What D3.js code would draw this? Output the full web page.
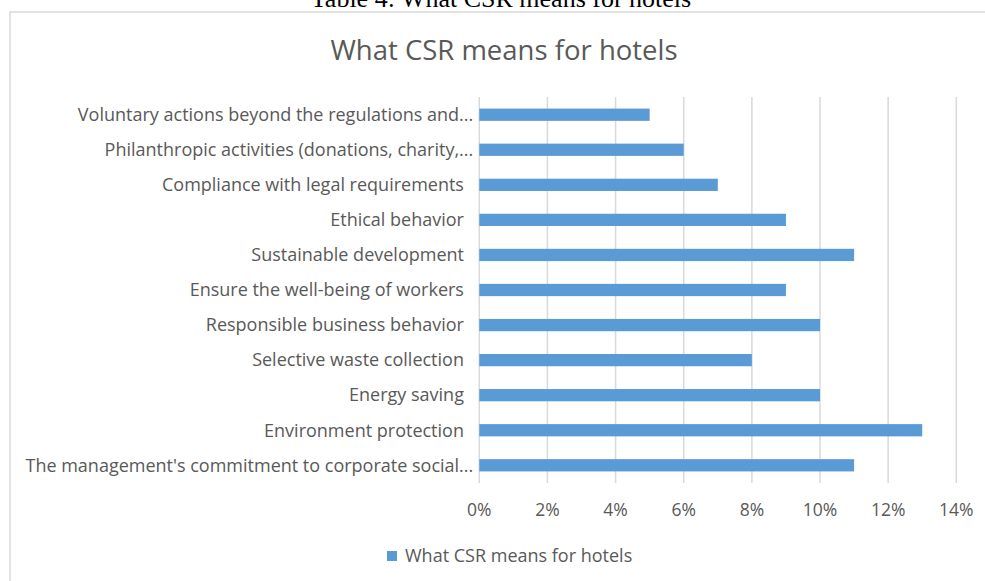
<!DOCTYPE html>
<html>
<head>
<meta charset="utf-8">
<script src="https://cdn.jsdelivr.net/npm/d3@7"></script>
<style>
  body { margin: 0; background: #fff; }
  svg { display: block; }
  text { font-family: "Open Sans", "Noto Sans", sans-serif; fill: #595959; }
</style>
</head>
<body>
<svg id="chart"></svg>
<script>
// data (top to bottom)
var categories = [
  "Voluntary actions beyond the regulations and...",
  "Philanthropic activities (donations, charity,...",
  "Compliance with legal requirements  ",
  "Ethical behavior  ",
  "Sustainable development  ",
  "Ensure the well-being of workers  ",
  "Responsible business behavior  ",
  "Selective waste collection  ",
  "Energy saving  ",
  "Environment protection  ",
  "The management's commitment to corporate social..."
];
var values = [5, 6, 7, 9, 11, 9, 10, 8, 10, 13, 11];
var xTicks = [0, 2, 4, 6, 8, 10, 12, 14];
var seriesName = "What CSR means for hotels";
var chartTitle = "What CSR means for hotels";
var caption = "Table 4: What CSR means for hotels";

var width = 985, height = 581;
var margin = { top: 97, right: 28.7, bottom: 98, left: 479.3 };

var svg = d3.select("#chart")
  .attr("width", width)
  .attr("height", height);

// caption from the document, cut off at the top like in the scan
svg.append("text")
  .attr("x", 501)
  .attr("y", 7)
  .attr("text-anchor", "middle")
  .style("font-family", "'Liberation Serif', serif")
  .style("font-size", "26px")
  .style("fill", "#000")
  .text(caption);

// chart area border
svg.append("rect")
  .attr("x", 10)
  .attr("y", 12)
  .attr("width", 990)
  .attr("height", 600)
  .attr("fill", "#fff")
  .attr("stroke", "#d9d9d9")
  .attr("stroke-width", 1.5);

svg.append("text")
  .attr("x", 504)
  .attr("y", 60)
  .attr("text-anchor", "middle")
  .style("font-size", "27.5px")
  .text(chartTitle);

var g = svg.append("g")
  .attr("transform", "translate(" + margin.left + "," + margin.top + ")");

var w = width - margin.left - margin.right;
var h = height - margin.top - margin.bottom;

var x = d3.scaleLinear()
  .domain([0, 14])
  .range([0, w]);

var y = d3.scaleBand()
  .domain(categories)
  .range([0, h])
  .paddingInner(0.65)
  .paddingOuter(0.33);

// gridlines
g.selectAll(".grid")
  .data(xTicks)
  .enter()
  .append("line")
  .attr("x1", d => x(d))
  .attr("x2", d => x(d))
  .attr("y1", 0)
  .attr("y2", h)
  .attr("stroke", "#d9d9d9")
  .attr("stroke-width", 1.5);

g.selectAll(".bar")
  .data(values)
  .enter()
  .append("rect")
  .attr("x", 0)
  .attr("y", (d, i) => y(categories[i]))
  .attr("width", d => x(d))
  .attr("height", y.bandwidth())
  .attr("fill", "#5b9bd5");

// category labels
g.selectAll(".cat")
  .data(categories)
  .enter()
  .append("text")
  .attr("x", -6)
  .attr("y", d => y(d) + y.bandwidth() / 2)
  .attr("dy", "0.35em")
  .attr("text-anchor", "end")
  .style("font-size", "18px")
  .style("white-space", "pre")
  .text(d => d);

// x tick labels
g.selectAll(".tick-label")
  .data(xTicks)
  .enter()
  .append("text")
  .attr("x", d => x(d))
  .attr("y", h + 27)
  .attr("dy", "0.35em")
  .attr("text-anchor", "middle")
  .style("font-size", "17.5px")
  .text(d => d + "%");

// legend
var legend = svg.append("g")
  .attr("transform", "translate(387,551)");

legend.append("rect")
  .attr("width", 10)
  .attr("height", 10)
  .attr("fill", "#5b9bd5");

legend.append("text")
  .attr("x", 18)
  .attr("y", 5)
  .attr("dy", "0.35em")
  .style("font-size", "18px")
  .text(seriesName);
</script>
</body>
</html>
